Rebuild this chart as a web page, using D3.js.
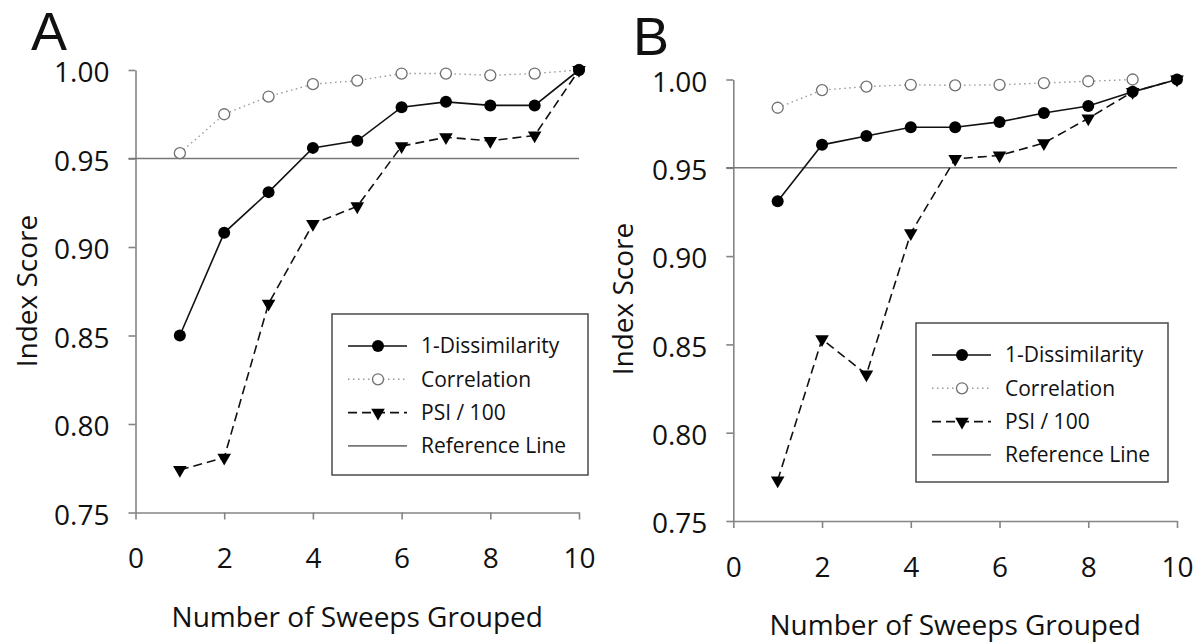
<!DOCTYPE html>
<html>
<head>
<meta charset="utf-8">
<script src="https://cdn.jsdelivr.net/npm/d3@7"></script>
<style>
  body { margin: 0; background: #fff; }
  svg text { font-family: 'Open Sans', 'Noto Sans', sans-serif; fill: #111; }
</style>
</head>
<body>
<svg width="1201" height="644"></svg>
<script>
const sweeps = [1, 2, 3, 4, 5, 6, 7, 8, 9, 10];
const xTicks = [0, 2, 4, 6, 8, 10];
const yTicks = [0.75, 0.80, 0.85, 0.90, 0.95, 1.00];
const refValue = 0.95;
const legendLabels = ['1-Dissimilarity', 'Correlation', 'PSI / 100', 'Reference Line'];

// panel A
const dissimA = [0.850, 0.908, 0.931, 0.956, 0.960, 0.979, 0.982, 0.980, 0.980, 1.000];
const corrA = [0.953, 0.975, 0.985, 0.992, 0.994, 0.998, 0.998, 0.997, 0.998, 1.000];
const psiA = [0.774, 0.781, 0.868, 0.913, 0.923, 0.957, 0.962, 0.960, 0.963, 1.000];

// panel B (correlation only goes to 9)
const dissimB = [0.931, 0.963, 0.968, 0.973, 0.973, 0.976, 0.981, 0.985, 0.993, 1.000];
const corrB = [0.984, 0.994, 0.996, 0.997, 0.9967, 0.997, 0.998, 0.999, 1.000];
const psiB = [0.773, 0.853, 0.833, 0.913, 0.955, 0.957, 0.964, 0.978, 0.993, 1.000];

const svg = d3.select('svg');

const panels = [
  {name: 'A', dis: dissimA, cor: corrA, psi: psiA,
   x0: 135.5, x1: 579, yTop: 70, yBot: 512.5,
   titleX: 31, titleY: 50, yTitleX: 37, yTitleY: 291, xTitleY: 627,
   legend: {x: 332, y: 314, w: 256, h: 161}},
  {name: 'B', dis: dissimB, cor: corrB, psi: psiB,
   x0: 733.3, x1: 1177, yTop: 79.5, yBot: 521,
   titleX: 633, titleY: 55, yTitleX: 633, yTitleY: 299, xTitleY: 635,
   legend: {x: 916, y: 323, w: 252, h: 159}}
];

const axisCol = '#858585';
const triangle = d3.symbol().type(d3.symbolTriangle).size(80);

panels.forEach(p => {
  const g = svg.append('g');

  const xScale = d3.scaleLinear().domain([0, 10]).range([p.x0, p.x1]);
  const yScale = d3.scaleLinear().domain([0.75, 1.0]).range([p.yBot, p.yTop]);

  // axes
  const yAxis = g.append('g')
      .attr('transform', `translate(${p.x0},0)`)
      .call(d3.axisLeft(yScale).tickValues(yTicks).tickFormat(d3.format('.2f'))
        .tickSize(7).tickSizeOuter(0).tickPadding(19));
  const xAxis = g.append('g')
      .attr('transform', `translate(0,${p.yBot})`)
      .call(d3.axisBottom(xScale).tickValues(xTicks).tickFormat(d3.format('d'))
        .tickSize(7).tickSizeOuter(0).tickPadding(29));

  [yAxis, xAxis].forEach(a => {
    a.select('.domain').attr('stroke', axisCol).attr('stroke-width', 1.6);
    a.selectAll('.tick line').attr('stroke', axisCol).attr('stroke-width', 1.6);
    a.selectAll('.tick text').attr('font-size', 28).attr('fill', '#111')
      .attr('font-family', "'Open Sans', sans-serif");
  });
  yAxis.selectAll('.tick text').attr('dy', '0.42em');

  // reference line
  g.append('line')
      .attr('x1', xScale(0) - 7).attr('x2', xScale(10))
      .attr('y1', yScale(refValue)).attr('y2', yScale(refValue))
      .attr('stroke', '#777').attr('stroke-width', 1.6);

  const lineGen = d3.line()
      .x((d, i) => xScale(sweeps[i]))
      .y(d => yScale(d));

  // correlation
  g.append('path')
      .attr('d', lineGen(p.cor))
      .attr('fill', 'none').attr('stroke', '#999')
      .attr('stroke-width', 1.4).attr('stroke-dasharray', '1.5,3.5');
  g.selectAll('.cor').data(p.cor).join('circle')
      .attr('cx', (d, i) => xScale(sweeps[i])).attr('cy', d => yScale(d))
      .attr('r', 5.5).attr('fill', '#fff').attr('stroke', '#707070').attr('stroke-width', 1.3);

  // 1-dissimilarity
  g.append('path')
      .attr('d', lineGen(p.dis))
      .attr('fill', 'none').attr('stroke', '#111').attr('stroke-width', 1.6);
  g.selectAll('.dis').data(p.dis).join('circle')
      .attr('cx', (d, i) => xScale(sweeps[i])).attr('cy', d => yScale(d))
      .attr('r', 6).attr('fill', '#000');

  // PSI / 100
  g.append('path')
      .attr('d', lineGen(p.psi))
      .attr('fill', 'none').attr('stroke', '#111')
      .attr('stroke-width', 1.6).attr('stroke-dasharray', '9,5');
  g.selectAll('.psi').data(p.psi).join('path')
      .attr('d', triangle)
      .attr('transform', (d, i) => `translate(${xScale(sweeps[i])},${yScale(d)}) rotate(180)`)
      .attr('fill', '#000');

  // titles
  g.append('text')
      .attr('x', p.titleX).attr('y', p.titleY)
      .attr('font-size', 54)
      .style('font-family', "'Liberation Sans', Arial, sans-serif")
      .text(p.name);
  g.append('text')
      .attr('transform', `translate(${p.yTitleX},${p.yTitleY}) rotate(-90)`)
      .attr('text-anchor', 'middle').attr('font-size', 28)
      .text('Index Score');
  g.append('text')
      .attr('x', (p.x0 + p.x1) / 2).attr('y', p.xTitleY)
      .attr('text-anchor', 'middle').attr('font-size', 28)
      .text('Number of Sweeps Grouped');

  // legend
  const L = p.legend;
  const lg = g.append('g').attr('transform', `translate(${L.x},${L.y})`);
  lg.append('rect')
      .attr('width', L.w).attr('height', L.h)
      .attr('fill', '#fff').attr('stroke', '#555').attr('stroke-width', 1.6);
  const styles = [
    {stroke: '#111', dash: null, mark: 'dot'},
    {stroke: '#999', dash: '1.5,3.5', mark: 'ring'},
    {stroke: '#111', dash: '9,5', mark: 'tri'},
    {stroke: '#777', dash: null, mark: null}
  ];
  legendLabels.forEach((lab, i) => {
    const yy = 32 + i * 33.3;
    const s = styles[i];
    lg.append('line')
        .attr('x1', 16).attr('x2', 75).attr('y1', yy).attr('y2', yy)
        .attr('stroke', s.stroke).attr('stroke-width', s.mark === 'ring' ? 1.4 : 1.6)
        .attr('stroke-dasharray', s.dash);
    if (s.mark === 'dot') {
      lg.append('circle').attr('cx', 46).attr('cy', yy).attr('r', 6).attr('fill', '#000');
    } else if (s.mark === 'ring') {
      lg.append('circle').attr('cx', 46).attr('cy', yy).attr('r', 5.5)
          .attr('fill', '#fff').attr('stroke', '#707070').attr('stroke-width', 1.3);
    } else if (s.mark === 'tri') {
      lg.append('path').attr('d', triangle)
          .attr('transform', `translate(46,${yy}) rotate(180)`).attr('fill', '#000');
    }
    lg.append('text')
        .attr('x', 89).attr('y', yy)
        .attr('dy', '0.35em').attr('font-size', 21)
        .text(lab);
  });
});
</script>
</body>
</html>
